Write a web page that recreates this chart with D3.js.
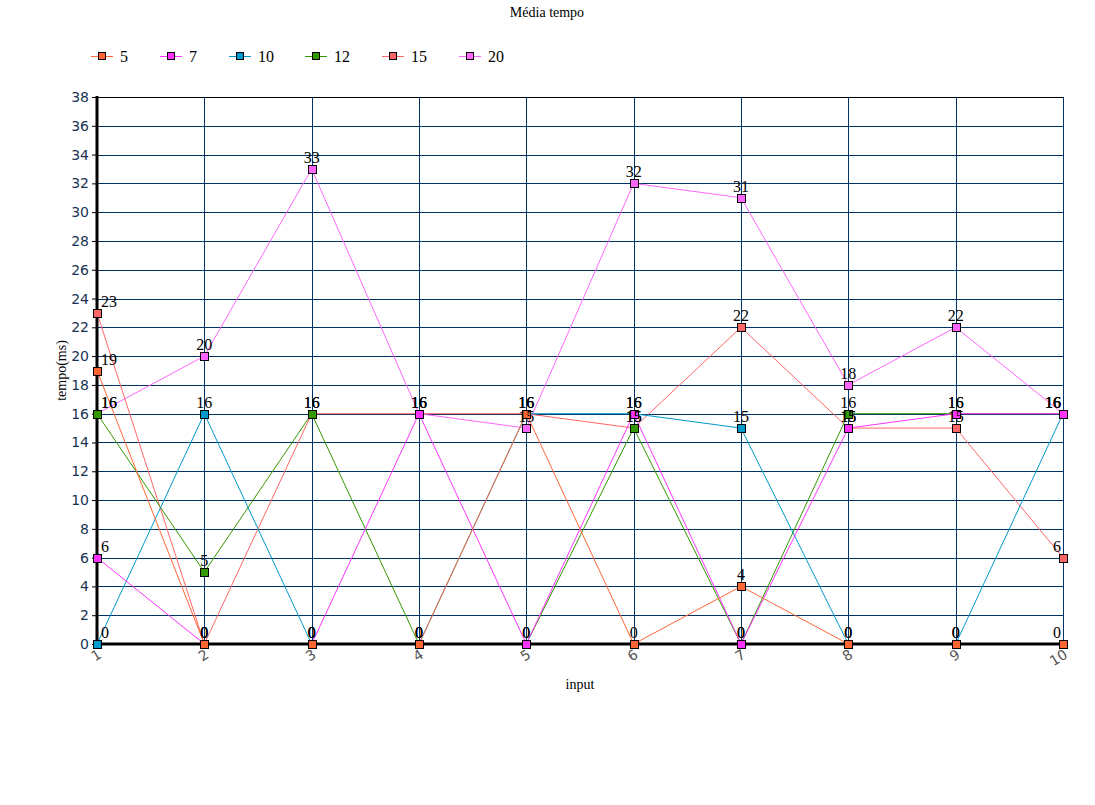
<!DOCTYPE html>
<html>
<head>
<meta charset="utf-8">
<script src="https://cdn.jsdelivr.net/npm/d3@7"></script>
<style>
  html, body { margin: 0; padding: 0; background: #fff; }
  svg { display: block; }
</style>
</head>
<body>
<svg id="chart" width="1095" height="805"></svg>
<script>
const categories = [1, 2, 3, 4, 5, 6, 7, 8, 9, 10];
const seriesNames = ["5", "7", "10", "12", "15", "20"];
const seriesColors = ["#FF6633", "#FF33FF", "#0099CC", "#339900", "#FF6666", "#FF66FF"];
const s5  = [19, 0, 0, 0, 16, 0, 4, 0, 0, 0];
const s7  = [6, 0, 0, 16, 0, 16, 0, 15, 16, 16];
const s10 = [0, 16, 0, 0, 16, 16, 15, 0, 0, 16];
const s12 = [16, 5, 16, 0, 0, 15, 0, 16, 16, 16];
const s15 = [23, 0, 16, 16, 16, 15, 22, 15, 15, 6];
const s20 = [16, 20, 33, 16, 15, 32, 31, 18, 22, 16];
const seriesValues = [s5, s7, s10, s12, s15, s20];
const yTicks = d3.range(0, 39, 2);
const titleText = "Média tempo";
const xTitle = "input";
const yTitle = "tempo(ms)";

const svg = d3.select("#chart");
const L = 97, R = 1063, T = 97, B = 644;
const x = d3.scalePoint().domain(categories).range([L, R]);
const y = d3.scaleLinear().domain([0, 38]).range([B, T]);
const serif = "'Liberation Serif', 'Times New Roman', serif";
const sans = "'DejaVu Sans', Verdana, sans-serif";

// Title
svg.append("text").attr("x", 547).attr("y", 17).attr("text-anchor", "middle")
  .attr("font-family", serif).attr("font-size", 14).attr("fill", "#000").text(titleText);

// Legend
const legX = [91, 160, 229, 305, 382, 459];
const leg = svg.append("g");
seriesNames.forEach((n, i) => {
  const lx = legX[i];
  const g = leg.append("g");
  g.append("line").attr("x1", lx).attr("x2", lx + 22).attr("y1", 56.5).attr("y2", 56.5)
    .attr("stroke", seriesColors[i]).attr("stroke-width", 1);
  g.append("rect").attr("x", lx + 7.5).attr("y", 52.5).attr("width", 7).attr("height", 7)
    .attr("fill", seriesColors[i]).attr("stroke", "#000").attr("stroke-width", 1);
  g.append("text").attr("x", lx + 29).attr("y", 62).attr("font-family", serif)
    .attr("font-size", 16).attr("fill", "#000").text(n);
});

// Grid
const grid = svg.append("g");
grid.selectAll("line.h").data(yTicks).join("line")
  .attr("x1", L).attr("x2", R).attr("y1", d => Math.round(y(d)) + 0.5).attr("y2", d => Math.round(y(d)) + 0.5)
  .attr("stroke", d => d === 38 ? "#000" : "#003366").attr("stroke-width", 1);
grid.selectAll("line.v").data(categories).join("line")
  .attr("x1", d => Math.round(x(d)) + 0.5).attr("x2", d => Math.round(x(d)) + 0.5)
  .attr("y1", T).attr("y2", B)
  .attr("stroke", "#003366").attr("stroke-width", 1);

// Y axis
const yAxis = d3.axisLeft(y).tickValues(yTicks).tickSize(5).tickPadding(3);
const yg = svg.append("g").attr("transform", `translate(${L},0)`).call(yAxis);
yg.select(".domain").remove();
yg.selectAll(".tick line").attr("stroke", "#000");
yg.selectAll(".tick text").attr("font-family", sans).attr("font-size", 14).attr("fill", "#1a3355");

// X axis
const xAxis = d3.axisBottom(x).tickSize(0).tickPadding(0);
const xg = svg.append("g").attr("transform", `translate(0,${B})`).call(xAxis);
xg.select(".domain").remove();
xg.selectAll(".tick text").attr("font-family", sans).attr("font-size", 14).attr("fill", "#555")
  .attr("text-anchor", "end").attr("dy", 0)
  .attr("transform", "translate(5,13) rotate(-32)");

// Axis titles
svg.append("text").attr("x", (L + R) / 2).attr("y", 689).attr("text-anchor", "middle")
  .attr("font-family", serif).attr("font-size", 14).attr("fill", "#000").text(xTitle);
svg.append("text").attr("transform", `translate(66,${(T + B) / 2}) rotate(-90)`)
  .attr("text-anchor", "middle").attr("font-family", serif).attr("font-size", 14)
  .attr("fill", "#000").text(yTitle);

// Series (reverse order so first series on top)
const line = d3.line().x((d, i) => x(categories[i])).y(d => y(d));
const order = d3.range(seriesNames.length).reverse();
const plot = svg.append("g");
order.forEach(si => {
  plot.append("path").datum(seriesValues[si]).attr("d", line)
    .attr("fill", "none").attr("stroke", seriesColors[si]).attr("stroke-width", 1);
});

// Axis lines (over the series lines)
svg.append("line").attr("x1", L).attr("x2", L).attr("y1", T - 1).attr("y2", B + 1)
  .attr("stroke", "#000").attr("stroke-width", 3);
svg.append("line").attr("x1", L - 1).attr("x2", R + 1).attr("y1", B).attr("y2", B)
  .attr("stroke", "#000").attr("stroke-width", 3);

const marks = svg.append("g");
order.forEach(si => {
  marks.append("g").selectAll("rect").data(seriesValues[si]).join("rect")
    .attr("x", (d, i) => Math.round(x(categories[i])) - 4 + 0.5)
    .attr("y", d => Math.round(y(d)) - 4 + 0.5)
    .attr("width", 8).attr("height", 8)
    .attr("fill", seriesColors[si]).attr("stroke", "#000").attr("stroke-width", 1);
});
// Labels
order.forEach(si => {
  const g = marks.append("g");
  seriesValues[si].forEach((d, i) => {
    const t = g.append("text").attr("font-family", serif).attr("font-size", 16)
      .attr("fill", "#000").attr("text-anchor", "middle").text(d);
    const w = t.node().getComputedTextLength();
    let cx = x(categories[i]);
    cx = Math.max(L + 4 + w / 2, Math.min(R - 2 - w / 2, cx));
    t.attr("x", cx).attr("y", y(d) - 6);
  });
});
</script>
</body>
</html>
